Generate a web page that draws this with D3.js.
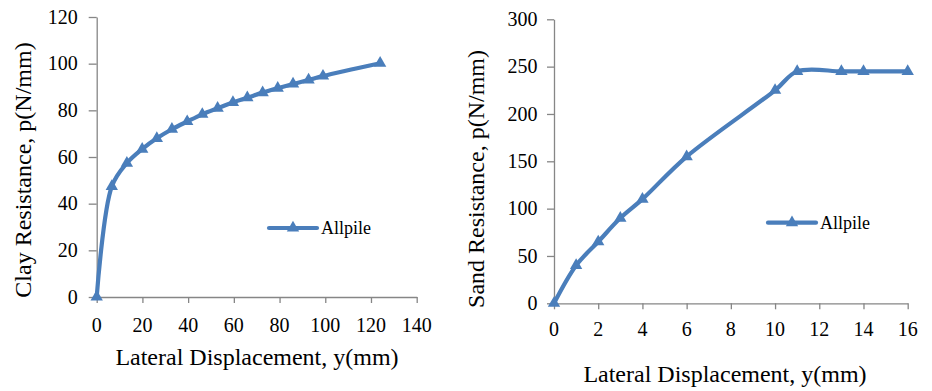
<!DOCTYPE html>
<html>
<head>
<meta charset="utf-8">
<script src="https://cdn.jsdelivr.net/npm/d3@7"></script>
<style>
  body { margin: 0; background: #ffffff; }
  svg text { font-family: "Liberation Serif", "Times New Roman", serif; fill: #000; }
</style>
</head>
<body>
<svg id="chart" width="932" height="391"></svg>
<script>
// clay p-y curve (left)
var clay_x = [0, 6.6, 13.2, 19.9, 26.3, 32.9, 39.6, 46.2, 52.9, 59.6, 65.9, 72.6, 79.2, 85.9, 92.7, 99, 124];
var clay_p = [0, 47.4, 57.4, 63.4, 68, 71.9, 75.2, 78.3, 80.9, 83.4, 85.4, 87.6, 89.5, 91.3, 93, 94.7, 100.2];
var clay_xticks = [0, 20, 40, 60, 80, 100, 120, 140];
var clay_yticks = [0, 20, 40, 60, 80, 100, 120];

// sand p-y curve (right)
var sand_x = [0, 1, 2, 3, 4, 6, 10, 11, 13, 14, 16];
var sand_p = [0, 40, 65, 90, 110, 155, 225, 245, 245, 245, 245];
var sand_xticks = [0, 2, 4, 6, 8, 10, 12, 14, 16];
var sand_yticks = [0, 50, 100, 150, 200, 250, 300];

var series_name = "Allpile";
var line_color = "#4a7ebb";
var axis_color = "#868686";

var svg = d3.select("#chart");

function drawPanel(cfg) {
    var x = d3.scaleLinear().domain(cfg.xdomain).range(cfg.xrange);
    var y = d3.scaleLinear().domain(cfg.ydomain).range(cfg.yrange);
    var g = svg.append("g");

    // axis lines and ticks, labels drawn separately as plain text
    var xAxis = g.append("g")
        .attr("transform", "translate(0," + cfg.yrange[0] + ")")
        .call(d3.axisBottom(x).tickValues(cfg.xticks).tickSize(6).tickFormat("").tickSizeOuter(0));
    var yAxis = g.append("g")
        .attr("transform", "translate(" + cfg.xrange[0] + ",0)")
        .call(d3.axisLeft(y).tickValues(cfg.yticks).tickSize(cfg.ytick).tickFormat("").tickSizeOuter(0));

    [xAxis, yAxis].forEach(function (a) {
        a.select(".domain").attr("stroke", axis_color).attr("stroke-width", 1.3);
        a.selectAll(".tick line").attr("stroke", axis_color).attr("stroke-width", 1.3);
    });

    g.selectAll(".xlab")
        .data(cfg.xticks)
        .enter()
        .append("text")
        .attr("class", "xlab")
        .attr("x", function (d) { return x(d); })
        .attr("y", cfg.yrange[0] + cfg.xlab)
        .attr("text-anchor", "middle")
        .style("font-size", "20px")
        .text(function (d) { return d; });

    g.selectAll(".ylab")
        .data(cfg.yticks)
        .enter()
        .append("text")
        .attr("class", "ylab")
        .attr("x", cfg.xrange[0] - cfg.ylab)
        .attr("y", function (d) { return y(d); })
        .attr("dy", "0.34em")
        .attr("text-anchor", "end")
        .style("font-size", "20px")
        .text(function (d) { return d; });

    var pts = cfg.xs.map(function (d, i) { return [d, cfg.ps[i]]; });
    var line = d3.line()
        .x(function (d) { return x(d[0]); })
        .y(function (d) { return y(d[1]); })
        .curve(d3.curveCatmullRom);

    g.append("path")
        .datum(pts)
        .attr("d", line)
        .attr("fill", "none")
        .attr("stroke", line_color)
        .attr("stroke-width", 4.2)
        .attr("stroke-linejoin", "round")
        .attr("stroke-linecap", "round");

    var tri = d3.symbol().type(d3.symbolTriangle).size(66);
    g.selectAll(".marker")
        .data(pts)
        .enter()
        .append("path")
        .attr("class", "marker")
        .attr("d", tri)
        .attr("transform", function (d) {
            return "translate(" + x(d[0]) + "," + y(d[1]) + ")";
        })
        .attr("fill", line_color);

    // legend
    var lg = g.append("g").attr("transform", "translate(" + cfg.legend[0] + "," + cfg.legend[1] + ")");
    lg.append("line")
        .attr("x1", 0).attr("x2", 48)
        .attr("y1", 0).attr("y2", 0)
        .attr("stroke", line_color)
        .attr("stroke-width", 4.2)
        .attr("stroke-linecap", "round");
    lg.append("path")
        .attr("d", tri)
        .attr("transform", "translate(24,0)")
        .attr("fill", line_color);
    lg.append("text")
        .attr("x", 52)
        .attr("y", 6)
        .style("font-size", "18px")
        .text(series_name);

    // axis titles
    g.append("text")
        .attr("x", cfg.xtitle[0])
        .attr("y", cfg.xtitle[1])
        .attr("text-anchor", "middle")
        .style("font-size", "24px")
        .text("Lateral Displacement, y(mm)");
    g.append("text")
        .attr("transform", "translate(" + cfg.ytitle[0] + "," + cfg.ytitle[1] + ") rotate(-90)")
        .attr("text-anchor", "middle")
        .style("font-size", "24px")
        .text(cfg.ylabel);
}

drawPanel({
    xs: clay_x, ps: clay_p,
    xdomain: [0, 140], ydomain: [0, 120],
    xrange: [96.7, 416.7], yrange: [297, 17],
    xticks: clay_xticks, yticks: clay_yticks,
    xlab: 35, ytick: 8, ylab: 19,
    legend: [269, 228],
    xtitle: [257, 365],
    ytitle: [31, 170],
    ylabel: "Clay Resistance, p(N/mm)"
});

drawPanel({
    xs: sand_x, ps: sand_p,
    xdomain: [0, 16], ydomain: [0, 300],
    xrange: [554, 907.7], yrange: [303.3, 19.3],
    xticks: sand_xticks, yticks: sand_yticks,
    xlab: 33, ytick: 7, ylab: 16.5,
    legend: [768, 222.7],
    xtitle: [725, 381.7],
    ytitle: [484, 179],
    ylabel: "Sand Resistance, p(N/mm)"
});
</script>
</body>
</html>
